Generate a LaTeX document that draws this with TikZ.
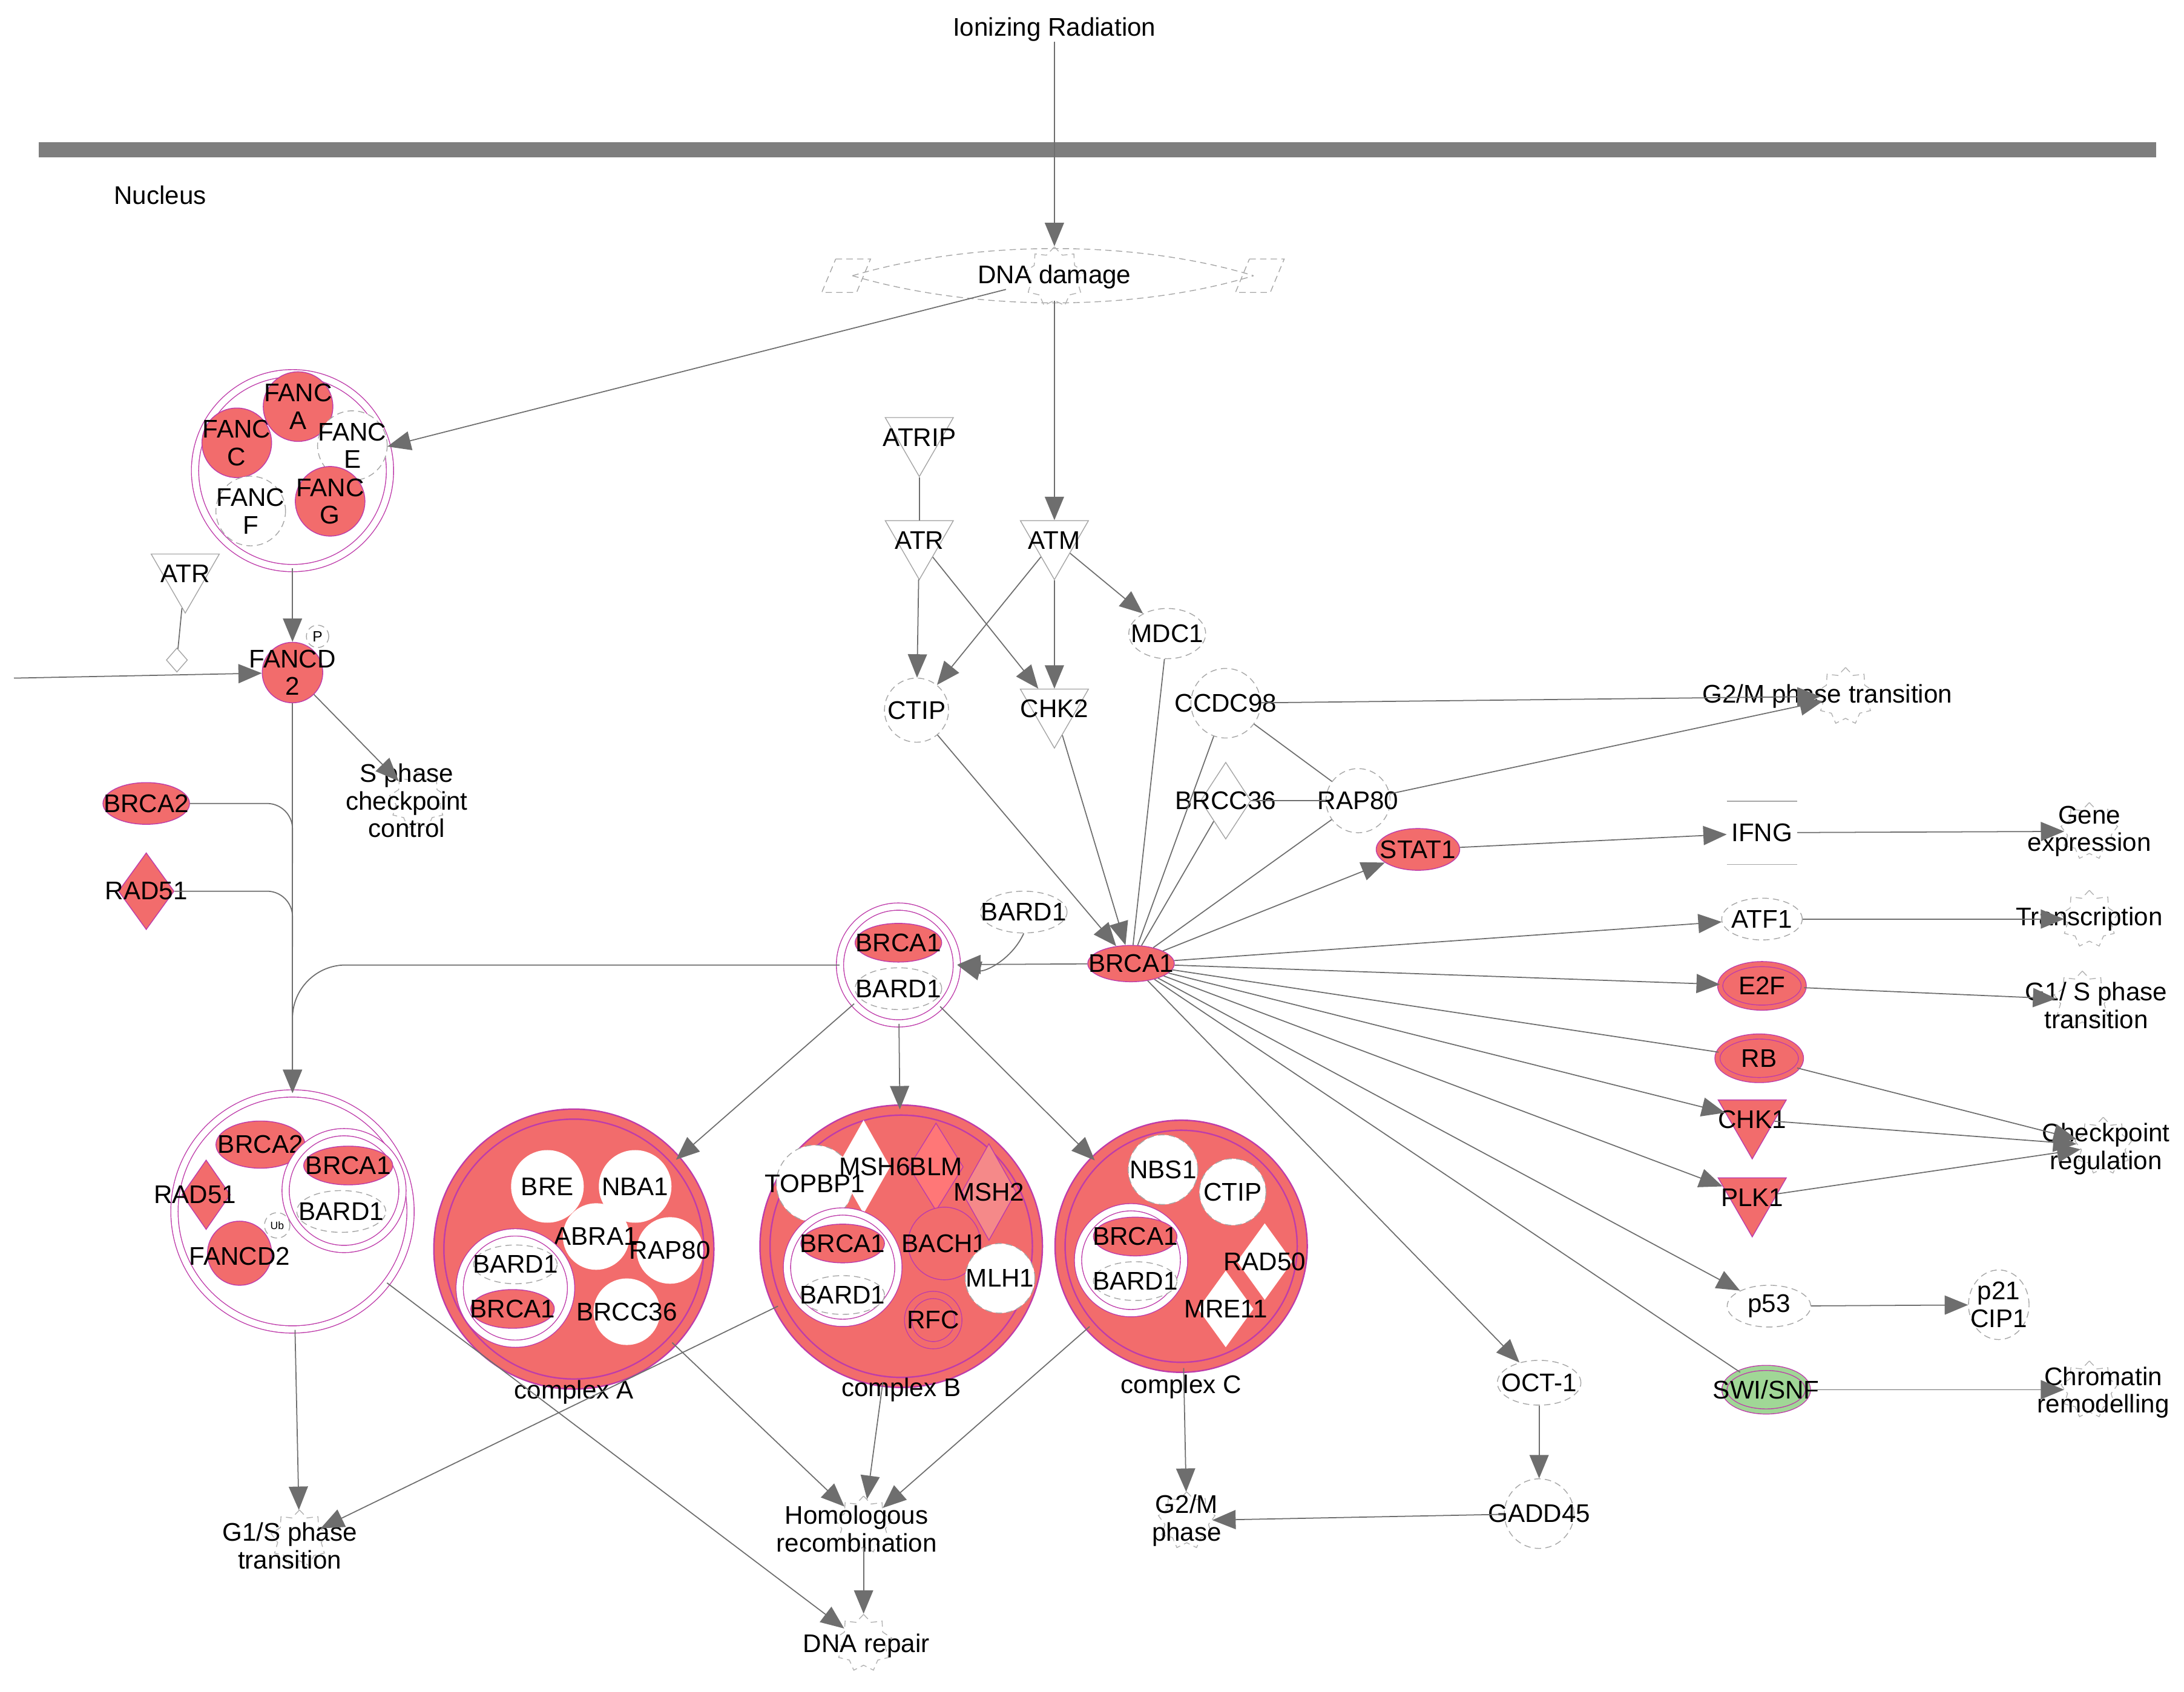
\documentclass[tikz,border=0pt]{standalone}
\usepackage{fontspec}
\setmainfont{Liberation Sans}
\usetikzlibrary{arrows.meta}
\usetikzlibrary{positioning}
\usetikzlibrary{shapes}
\definecolor{nred}{RGB}{242,108,108}
\definecolor{mag}{RGB}{190,60,170}
\definecolor{ngreen}{RGB}{160,215,150}
\definecolor{lgray}{RGB}{110,110,110}

\begin{document}
\begin{tikzpicture}[x=0.02301cm,y=-0.02301cm,
  font=\fontsize{12}{13}\selectfont]
  \tikzset{lbl/.style = {font=\fontsize{12}{13}\selectfont, align=center, inner sep=0pt}}
  \tikzset{t/.style = {label={[lbl]center:#1}}}
  \tikzset{wc/.style = {shape=circle, draw=gray!70, densely dashed, fill=white, inner sep=0pt}}
  \tikzset{we/.style = {shape=ellipse, draw=gray!70, densely dashed, fill=white, inner sep=0pt}}
  \tikzset{rc/.style = {shape=circle, draw=mag, fill=nred, inner sep=0pt}}
  \tikzset{re/.style = {shape=ellipse, draw=mag, fill=nred, inner sep=0pt}}
  \tikzset{dia/.style = {shape=diamond, draw=gray!70, fill=white, inner sep=0pt}}
  \tikzset{tri/.style = {shape=regular polygon, regular polygon sides=3, shape border rotate=180,
      draw=gray!70, fill=white, inner sep=0pt, minimum size=1.3cm}}
  \tikzset{ring/.style = {shape=circle, draw=mag, double=white, double distance=3pt, inner sep=0pt}}
  \tikzset{cx/.style = {shape=circle, draw=mag, fill=nred, double=nred, double distance=4pt, line width=0.7pt, inner sep=0pt}}
  \tikzset{gear/.style = {shape=star, star points=9, star point ratio=1.3, draw=gray!60,
      densely dashed, minimum size=0.95cm, inner sep=0pt}}
  \tikzset{ln/.style = {draw=lgray, line width=0.5pt}}
  \tikzset{arr/.style = {ln, -{Triangle[length=11pt,width=9pt]}}}

  \useasboundingbox (0,0) rectangle (1568,1215);

  % membrane and top
  \fill[gray!55!black!70] (28,102) rectangle (1548,113);
  \node[lbl] (irad) at (757,21) {Ionizing Radiation};
  \node[lbl] (nucleus) at (115,140) {Nucleus};

  % DNA damage
  \draw[gray!70, densely dashed] (600,186) -- (625,186) -- (615,210) -- (590,210) -- cycle;
  \draw[gray!70, densely dashed] (897,186) -- (922,186) -- (912,210) -- (887,210) -- cycle;
  \draw[gray!70, densely dashed] (612,198) .. controls (700,172) and (815,172) .. (900,198);
  \draw[gray!70, densely dashed] (612,198) .. controls (700,224) and (815,224) .. (900,198);
  \node[gear, minimum size=1.0cm] (dnag) at (757,199) {};
  \node[lbl] (dna) at (757,199) {DNA damage};

  %%%%%%%%%%%% FANC complex
  \node[ring, minimum size=3.22cm] (fancx) at (210,338) {};
  \node[rc, minimum size=1.15cm, t={FANC\\C}] (fancC) at (170,318) {};
  \node[rc, minimum size=1.15cm, t={FANC\\A}] (fancA) at (214,292) {};
  \node[wc, minimum size=1.15cm, t={FANC\\E}] (fancE) at (253,320) {};
  \node[wc, minimum size=1.15cm, t={FANC\\F}] (fancF) at (180,367) {};
  \node[rc, minimum size=1.15cm, t={FANC\\G}] (fancG) at (237,360) {};

  \node[tri, t=ATR] (atrL) at (133,412) {};
  \node[dia, minimum width=0.35cm, minimum height=0.4cm] (dmd) at (127,474) {};
  \coordinate (inL) at (10,487);
  \node[rc, minimum size=1.0cm, t={FANCD\\2}] (fancd2) at (210,483) {};
  \node[wc, minimum size=0.37cm, label={[lbl,font=\scriptsize]center:P}] (pmark) at (228,457) {};
  \node[gear] (sphg) at (300,575) {};
  \node[lbl] (sphase) at (292,575) {S phase\\checkpoint\\control};

  \node[re, minimum width=1.43cm, minimum height=0.69cm, t=BRCA2] (brca2L) at (105,577) {};
  \node[dia, draw=mag, fill=nred, minimum width=0.92cm, minimum height=1.27cm, t=RAD51] (rad51L) at (105,640) {};

  %%%%%%%%%%%% left complex
  \node[ring, minimum size=3.9cm] (leftcx) at (210,870) {};
  \node[re, minimum width=1.47cm, minimum height=0.78cm, t=BRCA2] (brca2c) at (187,822) {};
  \node[dia, draw=mag, fill=nred, minimum width=0.8cm, minimum height=1.15cm] (rad51c) at (148,858) {};
  \node[lbl] (rad51ct) at (140,858) {RAD51};
  \node[rc, minimum size=1.06cm] (fancd2c) at (172,900) {};
  \node[lbl] (fancd2ct) at (172,902) {FANCD2};
  \node[wc, minimum size=0.42cm, label={[lbl,font=\tiny]center:Ub}] (ub) at (199,880) {};
  \node[ring, minimum size=1.93cm] (bbL) at (247,855) {};
  \node[re, minimum width=1.47cm, minimum height=0.64cm, t=BRCA1] (brca1c) at (250,837) {};
  \node[we, minimum width=1.47cm, minimum height=0.69cm, t=BARD1] (bard1c) at (245,870) {};
  \node[gear] (g1sLg) at (215,1105) {};
  \node[lbl] (g1sL) at (208,1110) {G1/S phase\\transition};

  %%%%%%%%%%%% BRCA1/BARD1
  \node[ring, minimum size=1.93cm] (bbt) at (645,693) {};
  \node[re, minimum width=1.43cm, minimum height=0.64cm, t=BRCA1] (brca1t) at (645,677) {};
  \node[we, minimum width=1.43cm, minimum height=0.69cm, t=BARD1] (bard1t) at (645,710) {};
  \node[re, minimum width=1.43cm, minimum height=0.6cm, t=BRCA1] (brca1) at (812,692) {};
  \node[we, minimum width=1.43cm, minimum height=0.69cm, t=BARD1] (bard1m) at (735,655) {};

  %%%%%%%%%%%% complex A
  \node[cx, minimum size=4.46cm] (cxA) at (412,897) {};
  \node[wc, draw=none, minimum size=1.2cm, t=BRE] (bre) at (393,852) {};
  \node[wc, draw=none, minimum size=1.2cm, t=NBA1] (nba1) at (456,852) {};
  \node[wc, draw=none, minimum size=1.1cm, t=ABRA1] (abra1) at (428,888) {};
  \node[wc, draw=none, minimum size=1.1cm, t=RAP80] (rap80a) at (481,898) {};
  \node[wc, draw=none, minimum size=1.1cm, t=BRCC36] (brcc36a) at (450,942) {};
  \node[ring, fill=white, minimum size=1.84cm] (bbA) at (370,925) {};
  \node[we, minimum width=1.38cm, minimum height=0.64cm, t=BARD1] (bard1A) at (370,908) {};
  \node[re, minimum width=1.38cm, minimum height=0.64cm, t=BRCA1] (brca1A) at (368,940) {};
  \node[lbl] (cxAt) at (412,1000) {complex A};

  %%%%%%%%%%%% complex B
  \node[cx, minimum size=4.5cm] (cxB) at (647,895) {};
  \node[dia, draw=mag, fill=nred!80, minimum width=0.9cm, minimum height=1.6cm] (msh2) at (710,856) {};
  \node[dia, draw=mag, fill=nred!110!black, minimum width=0.9cm, minimum height=1.45cm] (blm) at (672,838) {};
  \node[wc, minimum size=1.27cm] (topbp1) at (585,850) {};
  \node[dia, draw=none, minimum width=0.88cm, minimum height=1.55cm] (msh6) at (620,838) {};
  \node[lbl] (msh6t) at (628,838) {MSH6};
  \node[lbl] (blmt) at (672,838) {BLM};
  \node[lbl] (msh2t) at (710,856) {MSH2};
  \node[lbl] (topbp1t) at (585,850) {TOPBP1};
  \node[rc, minimum size=1.2cm, t=BACH1] (bach1) at (678,893) {};
  \node[wc, minimum size=1.15cm, t=MLH1] (mlh1) at (718,918) {};
  \node[rc, double=nred, double distance=3pt, minimum size=0.83cm, t=RFC] (rfc) at (670,948) {};
  \node[ring, fill=white, minimum size=1.84cm] (bbB) at (605,910) {};
  \node[re, minimum width=1.38cm, minimum height=0.64cm, t=BRCA1] (brca1B) at (605,893) {};
  \node[we, minimum width=1.38cm, minimum height=0.64cm, t=BARD1] (bard1B) at (605,930) {};
  \node[lbl] (cxBt) at (647,998) {complex B};

  %%%%%%%%%%%% complex C
  \node[cx, minimum size=4.0cm] (cxC) at (848,895) {};
  \node[wc, minimum size=1.15cm, t=NBS1] (nbs1) at (835,840) {};
  \node[wc, minimum size=1.1cm, t=CTIP] (ctipC) at (885,856) {};
  \node[dia, draw=none, minimum width=0.92cm, minimum height=1.27cm, t=RAD50] (rad50) at (908,906) {};
  \node[dia, draw=none, minimum width=0.92cm, minimum height=1.27cm, t=MRE11] (mre11) at (880,940) {};
  \node[ring, fill=white, minimum size=1.75cm] (bbC) at (812,905) {};
  \node[re, minimum width=1.38cm, minimum height=0.64cm, t=BRCA1] (brca1C) at (815,888) {};
  \node[we, minimum width=1.38cm, minimum height=0.64cm, t=BARD1] (bard1C) at (815,920) {};
  \node[lbl] (cxCt) at (848,996) {complex C};

  %%%%%%%%%%%% process nodes bottom
  \node[gear] (hrg) at (620,1095) {};
  \node[lbl] (hr) at (615,1098) {Homologous\\recombination};
  \node[gear] (dnarepg) at (620,1180) {};
  \node[lbl] (dnarep) at (622,1182) {DNA repair};
  \node[gear] (g2mg) at (852,1092) {};
  \node[lbl] (g2m) at (852,1092) {G2/M\\phase};

  %%%%%%%%%%%% kinases
  \node[tri, t=ATRIP] (atrip) at (660,314) {};
  \node[tri, t=ATR] (atr) at (660,388) {};
  \node[tri, t=ATM] (atm) at (757,388) {};
  \node[wc, minimum size=1.06cm, t=CTIP] (ctip) at (658,510) {};
  \node[tri, t=CHK2] (chk2) at (757,509) {};
  \node[we, minimum width=1.27cm, minimum height=0.83cm, t=MDC1] (mdc1) at (838,455) {};
  \node[wc, minimum size=1.15cm, t=CCDC98] (ccdc98) at (880,505) {};
  \node[dia, minimum width=0.83cm, minimum height=1.27cm] (brcc36) at (880,575) {};
  \node[lbl] (brcc36t) at (880,575) {BRCC36};
  \node[wc, minimum size=1.06cm, t=RAP80] (rap80) at (975,575) {};
  \node[re, minimum width=1.38cm, minimum height=0.69cm, t=STAT1] (stat1) at (1018,610) {};

  %%%%%%%%%%%% right column
  \node[gear] (g2mtg) at (1325,500) {};
  \node[lbl] (g2mt) at (1312,500) {G2/M phase transition};
  \node[minimum width=1.15cm, minimum height=1.03cm, t=IFNG] (ifng) at (1265,598) {};
  \draw[gray!70] (ifng.north west) -- (ifng.north east) (ifng.south west) -- (ifng.south east);
  \node[gear] (geneg) at (1500,597) {};
  \node[lbl] (geneexp) at (1500,597) {Gene\\expression};
  \node[we, minimum width=1.33cm, minimum height=0.69cm, t=ATF1] (atf1) at (1265,660) {};
  \node[gear] (transg) at (1500,660) {};
  \node[lbl] (transcr) at (1500,660) {Transcription};
  \node[re, double=nred, double distance=2pt, minimum width=1.38cm, minimum height=0.72cm, t=E2F] (e2f) at (1265,708) {};
  \node[gear] (g1sRg) at (1495,718) {};
  \node[lbl] (g1sR) at (1505,722) {G1/ S phase\\transition};
  \node[re, double=nred, double distance=2pt, minimum width=1.38cm, minimum height=0.72cm, t=RB] (rb) at (1263,760) {};
  \node[tri, draw=mag, fill=nred, minimum size=1.3cm, t=CHK1] (chk1) at (1258,804) {};
  \node[tri, draw=mag, fill=nred, minimum size=1.3cm, t=PLK1] (plk1) at (1258,860) {};
  \node[gear] (checkg) at (1510,823) {};
  \node[lbl] (checkpt) at (1512,825) {Checkpoint\\regulation};
  \node[we, minimum width=1.38cm, minimum height=0.69cm, t=p53] (p53) at (1270,938) {};
  \node[we, minimum width=1.0cm, minimum height=1.15cm, t={p21\\CIP1}] (p21) at (1435,937) {};
  \node[shape=ellipse, draw=mag, fill=ngreen, double=ngreen, double distance=2pt, minimum width=1.38cm, minimum height=0.72cm, t=SWI/SNF] (swi) at (1268,998) {};
  \node[gear] (chromg) at (1500,998) {};
  \node[lbl] (chrom) at (1510,1000) {Chromatin\\remodelling};
  \node[we, minimum width=1.38cm, minimum height=0.74cm, t=OCT-1] (oct1) at (1105,993) {};
  \node[wc, minimum size=1.15cm, t=GADD45] (gadd45) at (1105,1087) {};

  %%%%%%%%%%%% connectors
  \draw[arr] (irad) -- (dnag);
  \draw[arr] (dna) -- (fancx);
  \draw[arr] (dnag) -- (atm);
  \draw[arr] (fancx) -- (fancd2);
  \draw[ln] (atrL) -- (dmd);
  \draw[arr] (inL) -- (fancd2);
  \draw[arr] (fancd2) -- (sphg);
  \draw[arr] (fancd2) -- (leftcx);
  \draw[ln, rounded corners=12pt] (brca2L.east) -| (210,620);
  \draw[ln, rounded corners=12pt] (rad51L.east) -| (210,680);
  \draw[arr, rounded corners=25pt] (bbt.west) -| (leftcx.north);
  \draw[arr] (leftcx) -- (g1sLg);
  \draw[arr] (leftcx) -- (dnarepg);
  \draw[arr] (cxB) -- (g1sLg);
  \draw[arr] (cxA) -- (hrg);
  \draw[arr] (cxB) -- (hrg);
  \draw[arr] (cxC) -- (hrg);
  \draw[arr] (hrg) -- (dnarepg);
  \draw[arr] (cxC) -- (g2mg);
  \draw[arr] (bbt) -- (cxA);
  \draw[arr] (bbt) -- (cxB);
  \draw[arr] (bbt) -- (cxC);
  \draw[arr] (brca1) -- (bbt);
  \draw[arr] (bard1m.south) to[bend left=40] (bbt.east);
  \draw[ln] (atrip) -- (atr);
  \draw[arr] (atr) -- (ctip);
  \draw[arr] (atr) -- (chk2);
  \draw[arr] (atm) -- (ctip);
  \draw[arr] (atm) -- (chk2);
  \draw[arr] (atm) -- (mdc1);
  \draw[arr] (ctip) -- (brca1);
  \draw[arr] (chk2) -- (brca1);
  \draw[ln] (mdc1) -- (brca1);
  \draw[ln] (ccdc98) -- (brca1);
  \draw[ln] (brcc36) -- (brca1);
  \draw[ln] (rap80) -- (brca1);
  \draw[ln] (ccdc98) -- (rap80);
  \draw[ln] (brcc36) -- (rap80);
  \draw[arr] (ccdc98) -- (g2mtg);
  \draw[arr] (rap80) -- (g2mtg);
  \draw[arr] (brca1) -- (stat1);
  \draw[arr] (stat1) -- (ifng);
  \draw[arr] (ifng) -- (geneg);
  \draw[arr] (brca1) -- (atf1);
  \draw[arr] (atf1) -- (transg);
  \draw[arr] (brca1) -- (e2f);
  \draw[arr] (e2f) -- (g1sRg);
  \draw[ln] (brca1) -- (rb);
  \draw[arr] (rb) -- (checkg);
  \draw[arr] (brca1) -- (chk1);
  \draw[arr] (chk1) -- (checkg);
  \draw[arr] (brca1) -- (plk1);
  \draw[arr] (plk1) -- (checkg);
  \draw[arr] (brca1) -- (p53);
  \draw[arr] (p53) -- (p21);
  \draw[ln] (brca1) -- (swi);
  \draw[arr] (swi) -- (chromg);
  \draw[arr] (brca1) -- (oct1);
  \draw[arr] (oct1) -- (gadd45);
  \draw[arr] (gadd45) -- (g2mg);
\end{tikzpicture}
\end{document}
